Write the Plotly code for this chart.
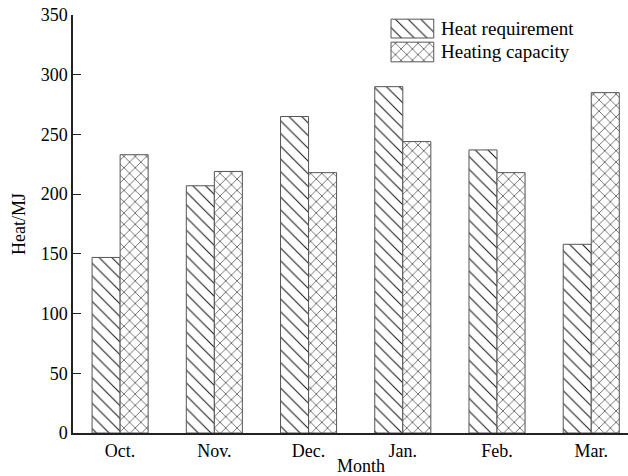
import plotly.graph_objects as go

months = ["Oct.", "Nov.", "Dec.", "Jan.", "Feb.", "Mar."]
heat_requirement = [147, 207, 265, 290, 237, 158]
heating_capacity = [233, 219, 218, 244, 218, 285]
series_names = ["Heat requirement", "Heating capacity"]
y_ticks = [0, 50, 100, 150, 200, 250, 300, 350]

FONT = "Liberation Serif"
req_pattern = dict(shape="\\", size=9, solidity=0.11, fgcolor="#111", bgcolor="white", fillmode="replace")
cap_pattern = dict(shape="x", size=8, solidity=0.14, fgcolor="#111", bgcolor="white", fillmode="replace")

fig = go.Figure()
fig.add_trace(go.Bar(x=months, y=heat_requirement, name=series_names[0],
                     marker=dict(color="white", pattern=req_pattern, line=dict(color="#555", width=1)),
                     showlegend=False))
fig.add_trace(go.Bar(x=months, y=heating_capacity, name=series_names[1],
                     marker=dict(color="white", pattern=cap_pattern, line=dict(color="#555", width=1)),
                     showlegend=False))

# custom legend (large pattern swatches) on an overlay axis in plot-fraction units
legend_boxes = [(0.573, 0.650, 0.945, 0.990), (0.573, 0.650, 0.888, 0.935)]
for (x0, x1, y0, y1), pat, name in zip(legend_boxes, [req_pattern, cap_pattern], series_names):
    fig.add_trace(go.Scatter(x=[x0, x1, x1, x0, x0], y=[y0, y0, y1, y1, y0], xaxis="x2", yaxis="y2",
                             mode="lines", fill="toself", fillcolor="white", fillpattern=pat,
                             line=dict(color="#555", width=1), showlegend=False, hoverinfo="skip"))
    fig.add_annotation(x=x1 + 0.009, y=(y0 + y1) / 2, xref="x2", yref="y2", text=name, showarrow=False,
                       xanchor="left", yanchor="middle", font=dict(family=FONT, size=19, color="black"))

# x-axis title placed as in the reference
fig.add_annotation(x=0.519, y=-0.079, xref="x2", yref="paper", text="Month", showarrow=False,
                   xanchor="center", yanchor="middle", font=dict(family=FONT, size=18, color="black"))

fig.update_layout(
    width=628, height=476,
    margin=dict(l=73, r=0, t=15, b=43),
    paper_bgcolor="white", plot_bgcolor="white",
    barmode="group", bargap=0.405, bargroupgap=0,
    font=dict(family=FONT, size=18, color="black"),
    xaxis=dict(range=[-0.5, 5.39], showline=True, linecolor="#222", linewidth=2, ticks="",
               showgrid=False, zeroline=False, tickfont=dict(size=18)),
    yaxis=dict(range=[0, 350], tickvals=y_ticks, showline=True, linecolor="#222", linewidth=1.5,
               ticks="inside", ticklen=8, tickcolor="#222", showgrid=False, zeroline=False,
               tickfont=dict(size=18), title=dict(text="Heat/MJ", standoff=10, font=dict(size=18))),
    xaxis2=dict(overlaying="x", range=[0, 1], visible=False, anchor="y2"),
    yaxis2=dict(overlaying="y", range=[0, 1], visible=False, anchor="x2"),
)

fig.write_html("out.html")
